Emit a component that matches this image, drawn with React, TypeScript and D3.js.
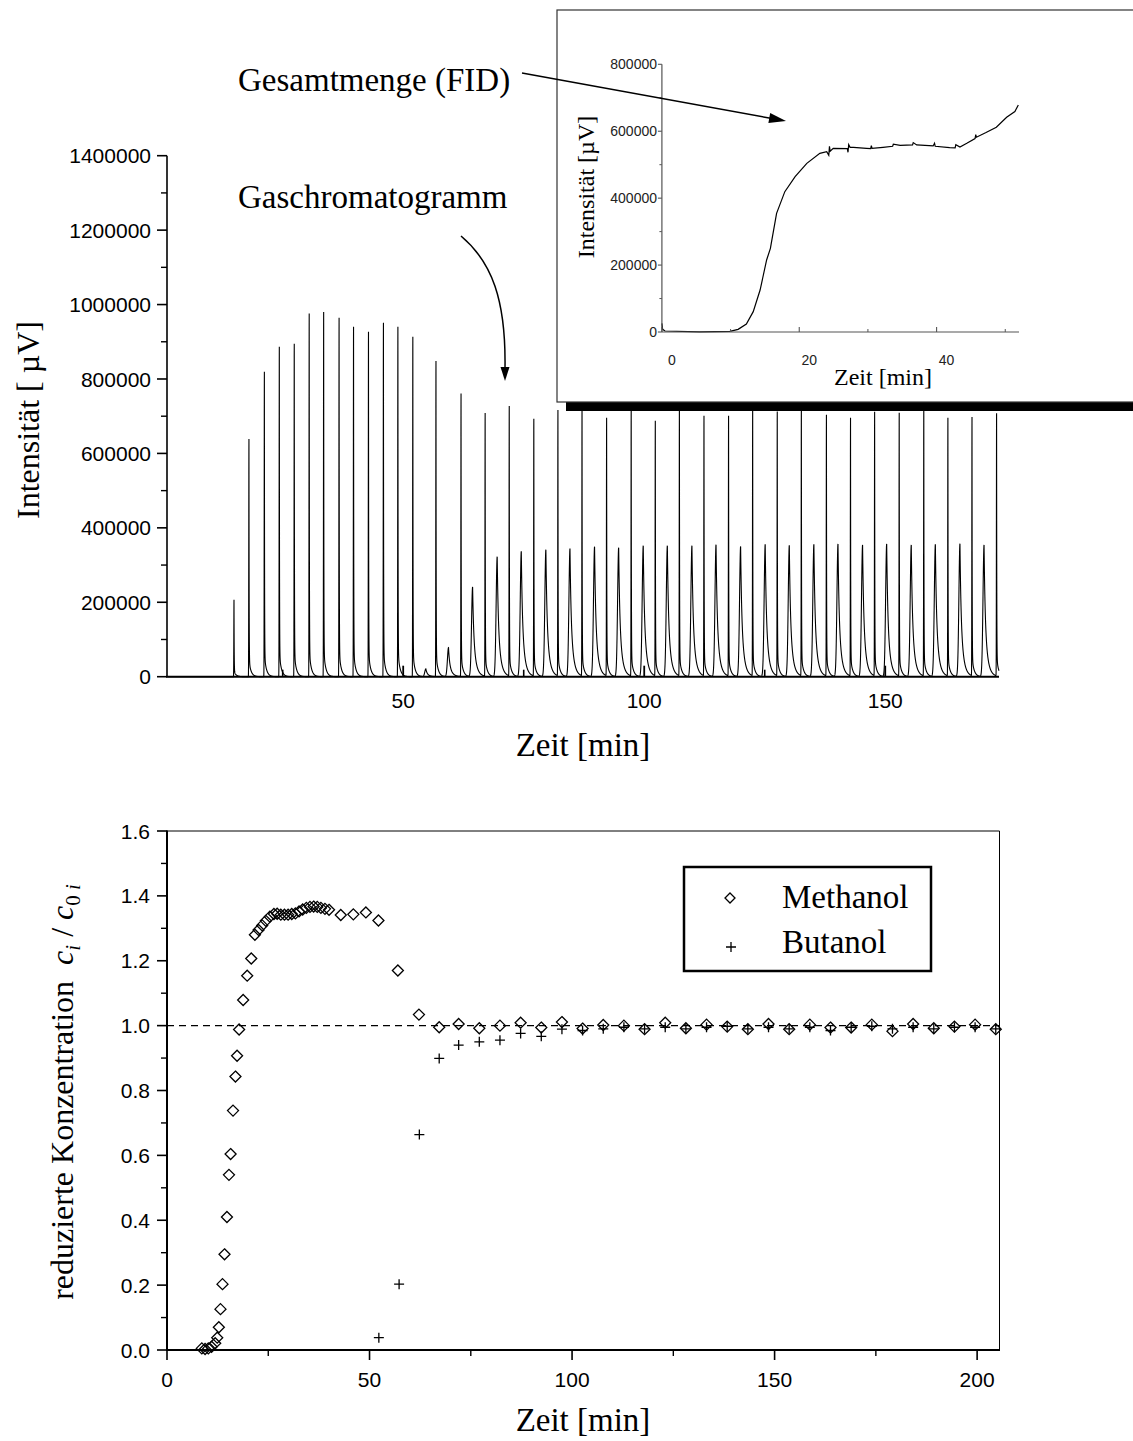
import React, { useMemo } from "react";
import * as d3 from "d3";

// ---------- Top chart (gas chromatogram) ----------
const methanolPeakTime = [14.9, 18.0, 21.2, 24.3, 27.4, 30.5, 33.5, 36.7, 39.7, 42.8, 45.9, 48.9, 52.0, 56.8, 62.0, 67.0, 72.0, 77.1, 82.1, 87.1, 92.2, 97.3, 102.3, 107.3, 112.4, 117.5, 122.5, 127.6, 132.6, 137.8, 142.8, 147.8, 152.9, 158.0, 163.0, 168.0, 173.1];
const methanolPeakHeight = [206900, 638700, 819500, 886700, 894800, 976200, 980000, 964600, 940500, 927000, 951200, 940500, 913600, 848300, 760400, 706700, 724700, 690600, 714000, 728000, 693300, 728000, 685200, 728000, 698600, 699000, 728000, 710000, 728000, 701300, 693300, 709400, 706700, 728000, 693300, 695000, 705800];
const butanolPeakTime = [54.7, 59.4, 64.4, 69.5, 74.5, 79.6, 84.6, 89.7, 94.7, 99.8, 104.8, 109.9, 114.9, 120.0, 125.1, 130.1, 135.2, 140.2, 145.3, 150.3, 155.4, 160.4, 165.5, 170.5];
const butanolPeakHeight = [21000, 78000, 241000, 322400, 336700, 341200, 344000, 349300, 346600, 352000, 352000, 352000, 354700, 350000, 355500, 352800, 355500, 356500, 353700, 356500, 353700, 355500, 357000, 353700];
const topYTicks = [0, 200000, 400000, 600000, 800000, 1000000, 1200000, 1400000];
const topXTicks = [50, 100, 150];

// ---------- Inset (FID total) ----------
const insetTime = [0, 0.11, 0.45, 5.5, 9.9, 11.1, 12.3, 13.3, 14.3, 15.25, 15.8, 15.9, 16.7, 17.9, 19.4, 21.1, 23.0, 24.0, 24.3, 24.4, 24.5, 24.95, 27.0, 27.1, 27.2, 27.4, 27.9, 29.8, 30.4, 30.5, 30.6, 32.2, 33.6, 33.7, 34.7, 36.5, 36.6, 37.1, 39.5, 39.7, 39.8, 41.9, 42.7, 42.8, 43.4, 44.4, 45.6, 45.7, 45.8, 47.2, 48.7, 50.2, 51.4, 51.9];
const insetIntensity = [25900, 8000, 3000, 500, 2000, 8000, 23900, 60800, 125500, 215200, 250000, 262000, 354700, 419400, 464300, 504100, 534000, 539000, 528000, 555000, 540000, 549000, 548000, 537000, 560000, 552000, 552000, 549000, 548000, 557000, 549000, 552000, 555000, 561000, 558000, 559000, 566000, 559000, 556000, 564000, 555000, 551000, 550000, 560000, 553000, 564000, 578000, 590000, 582000, 596000, 612000, 641600, 658600, 678500];
const insetYTicks = [0, 200000, 400000, 600000, 800000];
const insetXTicks = [0, 20, 40];

// ---------- Bottom chart (reduced concentration) ----------
const methanolTime = [8.6, 9.4, 10.2, 11.0, 11.9, 12.4, 12.8, 13.2, 13.7, 14.2, 14.8, 15.3, 15.7, 16.3, 16.9, 17.3, 17.8, 18.8, 19.8, 20.8, 21.7, 22.6, 23.5, 24.4, 25.4, 26.4, 27.2, 28.1, 29.0, 29.9, 30.8, 31.7, 32.6, 33.5, 34.4, 35.3, 36.2, 37.1, 38.0, 39.0, 40.0, 42.9, 46.0, 49.1, 52.2, 57.0, 62.2, 67.2, 72.0, 77.1, 82.2, 87.3, 92.4, 97.5, 102.6, 107.7, 112.8, 117.9, 123.0, 128.1, 133.2, 138.3, 143.4, 148.5, 153.6, 158.7, 163.8, 168.9, 174.0, 179.1, 184.2, 189.3, 194.4, 199.5, 204.6];
const methanolConc = [0.005, 0.003, 0.005, 0.01, 0.021, 0.038, 0.07, 0.126, 0.203, 0.295, 0.41, 0.54, 0.604, 0.738, 0.843, 0.907, 0.988, 1.079, 1.154, 1.207, 1.28, 1.295, 1.309, 1.323, 1.336, 1.344, 1.345, 1.342, 1.342, 1.342, 1.344, 1.346, 1.352, 1.358, 1.363, 1.366, 1.367, 1.366, 1.363, 1.36, 1.357, 1.341, 1.343, 1.349, 1.324, 1.17, 1.034, 0.995, 1.005, 0.992, 1.0, 1.009, 0.994, 1.011, 0.991, 1.002, 1.0, 0.989, 1.009, 0.992, 1.003, 0.997, 0.989, 1.005, 0.989, 1.003, 0.994, 0.994, 1.003, 0.983, 1.005, 0.992, 0.997, 1.003, 0.989];
const butanolTime = [52.3, 57.3, 62.3, 67.2, 72.0, 77.1, 82.2, 87.3, 92.4, 97.5, 102.6, 107.7, 112.8, 117.9, 123.0, 128.1, 133.2, 138.3, 143.4, 148.5, 153.6, 158.7, 163.8, 168.9, 174.0, 179.1, 184.2, 189.3, 194.4, 199.5, 204.6];
const butanolConc = [0.038, 0.203, 0.664, 0.899, 0.94, 0.95, 0.955, 0.976, 0.967, 0.989, 0.985, 0.99, 0.995, 0.99, 0.995, 0.99, 0.995, 0.998, 0.99, 0.995, 0.99, 0.995, 0.985, 0.995, 0.998, 0.99, 0.995, 0.99, 0.995, 0.995, 0.99];
const botYTicks = [0, 0.2, 0.4, 0.6, 0.8, 1.0, 1.2, 1.4, 1.6];
const botXTicks = [0, 50, 100, 150, 200];

const SANS = "'Liberation Sans', Arial, Helvetica, sans-serif";
const SERIF = "'Liberation Serif', 'Times New Roman', serif";

function methanolShape(dt: number) {
  if (dt < 0) return Math.exp(-(dt * dt) / (2 * 0.035 * 0.035));
  return 0.93 * Math.exp(-dt / 0.035) + 0.07 * Math.exp(-dt / 0.42);
}
function butanolShape(dt: number) {
  if (dt < 0) return Math.exp(-(dt * dt) / (2 * 0.22 * 0.22));
  return 0.5 * Math.exp(-dt / 0.22) + 0.5 * Math.exp(-dt / 0.6);
}

export default function App() {
  // scales
  const xTop = d3.scaleLinear().domain([1.0, 173.6]).range([167, 999]);
  const yTop = d3.scaleLinear().domain([0, 1400000]).range([676.7, 155.7]);
  const xIn = d3.scaleLinear().domain([0, 52]).range([661.9, 1019]);
  const yIn = d3.scaleLinear().domain([0, 800000]).range([332, 64.3]);
  const xBot = d3.scaleLinear().domain([0, 205.4]).range([167, 999]);
  const yBot = d3.scaleLinear().domain([0, 1.6]).range([1350, 831]);

  const chromPath = useMemo(() => {
    const ts: number[] = [];
    for (let t = 1.0; t <= 173.6; t += 0.01) ts.push(t);
    methanolPeakTime.forEach((t) => ts.push(t));
    butanolPeakTime.forEach((t) => ts.push(t));
    ts.sort((a, b) => a - b);
    const pts: [number, number][] = ts.map((t) => {
      let v = 0;
      for (let i = 0; i < methanolPeakTime.length; i++) {
        const dt = t - methanolPeakTime[i];
        if (dt > -0.5 && dt < 6) v += methanolPeakHeight[i] * methanolShape(dt);
      }
      for (let i = 0; i < butanolPeakTime.length; i++) {
        const dt = t - butanolPeakTime[i];
        if (dt > -2 && dt < 8) v += butanolPeakHeight[i] * butanolShape(dt);
      }
      return [t, v];
    });
    return d3
      .line<[number, number]>()
      .x((d) => xTop(d[0]))
      .y((d) => yTop(d[1]))(pts);
  }, []);

  const insetPath = d3
    .line<number>()
    .x((_, i) => xIn(insetTime[i]))
    .y((d) => yIn(d))(insetIntensity);

  const topMinorY = d3.range(100000, 1400000, 200000);
  const topMinorX = [25, 75, 125];
  const inMinorY = d3.range(100000, 800000, 200000);
  const inMinorX = [10, 30, 50];
  const botMinorY = d3.range(0.1, 1.6, 0.2);
  const botMinorX = [25, 75, 125, 175];

  const fmtBot = d3.format(".1f");

  // arrow helpers
  const arrowHead = (x1: number, y1: number, x2: number, y2: number, len: number, hw: number) => {
    const a = Math.atan2(y2 - y1, x2 - x1);
    const bx = x2 - len * Math.cos(a);
    const by = y2 - len * Math.sin(a);
    const px = -Math.sin(a) * hw;
    const py = Math.cos(a) * hw;
    return `${x2},${y2} ${bx + px},${by + py} ${bx - px},${by - py}`;
  };

  return (
    <svg
      width={1133}
      height={1441}
      style={{ position: "absolute", left: 0, top: 0, background: "#fff" }}
    >
      <rect x={0} y={0} width={1133} height={1441} fill="#fff" />

      {/* ===== Top chart ===== */}
      <path d={chromPath || ""} fill="none" stroke="#000" strokeWidth={1.1} />
      {/* axes */}
      <line x1={167} y1={yTop(1400000)} x2={167} y2={yTop(0)} stroke="#000" strokeWidth={1.6} />
      <line x1={166} y1={yTop(0)} x2={999} y2={yTop(0)} stroke="#000" strokeWidth={2} />
      {topYTicks.map((v) => (
        <g key={"ty" + v}>
          <line x1={157} x2={167} y1={yTop(v)} y2={yTop(v)} stroke="#000" strokeWidth={1.6} />
          <text x={151} y={yTop(v)} dy="0.36em" textAnchor="end" fontFamily={SANS} fontSize={21}>
            {v}
          </text>
        </g>
      ))}
      {topMinorY.map((v) => (
        <line key={"tmy" + v} x1={161} x2={167} y1={yTop(v)} y2={yTop(v)} stroke="#000" strokeWidth={1.4} />
      ))}
      {topXTicks.map((v) => (
        <g key={"tx" + v}>
          <line x1={xTop(v)} x2={xTop(v)} y1={yTop(0)} y2={yTop(0) - 11} stroke="#000" strokeWidth={1.8} />
          <text x={xTop(v)} y={700} dy="0.36em" textAnchor="middle" fontFamily={SANS} fontSize={21}>
            {v}
          </text>
        </g>
      ))}
      {topMinorX.map((v) => (
        <line key={"tmx" + v} x1={xTop(v)} x2={xTop(v)} y1={yTop(0)} y2={yTop(0) - 7} stroke="#000" strokeWidth={1.6} />
      ))}
      <text x={583} y={756} textAnchor="middle" fontFamily={SERIF} fontSize={33}>
        Zeit [min]
      </text>
      <text
        transform="translate(39,420) rotate(-90)"
        textAnchor="middle"
        fontFamily={SERIF}
        fontSize={32}
        style={{ whiteSpace: "pre" }}
      >
        {"Intensität [ µV]"}
      </text>

      {/* annotations */}
      <text x={238} y={91} fontFamily={SERIF} fontSize={33}>
        Gesamtmenge (FID)
      </text>
      <text x={238} y={208} fontFamily={SERIF} fontSize={33}>
        Gaschromatogramm
      </text>
      <path d="M461,236 C492,262 506,300 505,368" fill="none" stroke="#000" strokeWidth={1.5} />
      <polygon points={arrowHead(505, 360, 505, 381, 14, 4.5)} fill="#000" />

      {/* ===== Inset ===== */}
      <rect x={566} y={19} width={620} height={392} fill="#000" />
      <rect x={557} y={10} width={620} height={392} fill="#fff" stroke="#333" strokeWidth={1.2} />
      <path d={insetPath || ""} fill="none" stroke="#000" strokeWidth={1.2} />
      <line x1={xIn(0)} y1={yIn(800000)} x2={xIn(0)} y2={yIn(0)} stroke="#555" strokeWidth={1.2} />
      <line x1={xIn(0)} y1={yIn(0)} x2={xIn(52)} y2={yIn(0)} stroke="#555" strokeWidth={1.2} />
      {insetYTicks.map((v) => (
        <g key={"iy" + v}>
          <line x1={xIn(0) - 4} x2={xIn(0)} y1={yIn(v)} y2={yIn(v)} stroke="#555" strokeWidth={1.1} />
          <text x={657} y={yIn(v)} dy="0.36em" textAnchor="end" fontFamily={SANS} fontSize={14} fill="#222">
            {v}
          </text>
        </g>
      ))}
      {inMinorY.map((v) => (
        <line key={"imy" + v} x1={xIn(0) - 2.5} x2={xIn(0)} y1={yIn(v)} y2={yIn(v)} stroke="#555" strokeWidth={1} />
      ))}
      {insetXTicks.map((v) => (
        <g key={"ix" + v}>
          <line x1={xIn(v)} x2={xIn(v)} y1={yIn(0)} y2={yIn(0) - 5} stroke="#555" strokeWidth={1.1} />
          <text x={xIn(v) + 10} y={360} dy="0.36em" textAnchor="middle" fontFamily={SANS} fontSize={14} fill="#222">
            {v}
          </text>
        </g>
      ))}
      {inMinorX.map((v) => (
        <line key={"imx" + v} x1={xIn(v)} x2={xIn(v)} y1={yIn(0)} y2={yIn(0) - 3} stroke="#555" strokeWidth={1} />
      ))}
      <text x={883} y={385} textAnchor="middle" fontFamily={SERIF} fontSize={24}>
        Zeit [min]
      </text>
      <text transform="translate(594,187) rotate(-90)" textAnchor="middle" fontFamily={SERIF} fontSize={24}>
        Intensität [µV]
      </text>

      {/* Gesamtmenge arrow (drawn over inset) */}
      <line x1={522} y1={73} x2={772} y2={118.5} stroke="#000" strokeWidth={1.5} />
      <polygon points={arrowHead(522, 73, 786, 121, 17, 5)} fill="#000" />

      {/* ===== Bottom chart ===== */}
      <line x1={167} x2={999} y1={yBot(1)} y2={yBot(1)} stroke="#000" strokeWidth={1.4} strokeDasharray="7,5" />
      {/* frame */}
      <line x1={167} y1={831} x2={999.5} y2={831} stroke="#000" strokeWidth={1} />
      <line x1={999.5} y1={831} x2={999.5} y2={1350} stroke="#000" strokeWidth={1} />
      <line x1={167} y1={830.5} x2={167} y2={1351} stroke="#000" strokeWidth={2} />
      <line x1={166} y1={1350} x2={1000} y2={1350} stroke="#000" strokeWidth={2} />
      {botYTicks.map((v) => (
        <g key={"by" + v}>
          <line x1={157} x2={167} y1={yBot(v)} y2={yBot(v)} stroke="#000" strokeWidth={1.6} />
          <text x={150} y={yBot(v)} dy="0.36em" textAnchor="end" fontFamily={SANS} fontSize={21}>
            {fmtBot(v)}
          </text>
        </g>
      ))}
      {botMinorY.map((v) => (
        <line key={"bmy" + v} x1={161} x2={167} y1={yBot(v)} y2={yBot(v)} stroke="#000" strokeWidth={1.4} />
      ))}
      {botXTicks.map((v) => (
        <g key={"bx" + v}>
          <line x1={xBot(v)} x2={xBot(v)} y1={1350} y2={1360} stroke="#000" strokeWidth={1.6} />
          <text x={xBot(v)} y={1379} dy="0.36em" textAnchor="middle" fontFamily={SANS} fontSize={21}>
            {v}
          </text>
        </g>
      ))}
      {botMinorX.map((v) => (
        <line key={"bmx" + v} x1={xBot(v)} x2={xBot(v)} y1={1350} y2={1356} stroke="#000" strokeWidth={1.4} />
      ))}
      {/* points */}
      {methanolTime.map((t, i) => {
        const cx = xBot(t);
        const cy = yBot(methanolConc[i]);
        const r = 5.5;
        return (
          <path
            key={"m" + i}
            d={`M${cx},${cy - r}L${cx + r},${cy}L${cx},${cy + r}L${cx - r},${cy}Z`}
            fill="none"
            stroke="#000"
            strokeWidth={1.3}
          />
        );
      })}
      {butanolTime.map((t, i) => {
        const cx = xBot(t);
        const cy = yBot(butanolConc[i]);
        const r = 5;
        return (
          <path
            key={"b" + i}
            d={`M${cx - r},${cy}H${cx + r}M${cx},${cy - r}V${cy + r}`}
            fill="none"
            stroke="#000"
            strokeWidth={1.3}
          />
        );
      })}
      {/* legend */}
      <rect x={684} y={867} width={247} height={104} fill="#fff" stroke="#000" strokeWidth={2.5} />
      <path d="M730,893L735,898L730,903L725,898Z" fill="none" stroke="#000" strokeWidth={1.3} />
      <path d="M726,947H736M731,942V952" fill="none" stroke="#000" strokeWidth={1.3} />
      <text x={782} y={908} fontFamily={SERIF} fontSize={33}>
        Methanol
      </text>
      <text x={782} y={953} fontFamily={SERIF} fontSize={33}>
        Butanol
      </text>
      {/* axis titles */}
      <text x={583} y={1431} textAnchor="middle" fontFamily={SERIF} fontSize={33}>
        Zeit [min]
      </text>
      <text
        transform="translate(73,1092) rotate(-90)"
        textAnchor="middle"
        fontFamily={SERIF}
        fontSize={32}
        style={{ whiteSpace: "pre" }}
      >
        <tspan>{"reduzierte Konzentration  "}</tspan>
        <tspan fontStyle="italic">c</tspan>
        <tspan fontStyle="italic" fontSize={21} dy={7}>i</tspan>
        <tspan dy={-7}>{" / "}</tspan>
        <tspan fontStyle="italic">c</tspan>
        <tspan fontSize={21} dy={7}>0</tspan>
        <tspan fontSize={21} fontStyle="italic">{" i"}</tspan>
      </text>
    </svg>
  );
}
